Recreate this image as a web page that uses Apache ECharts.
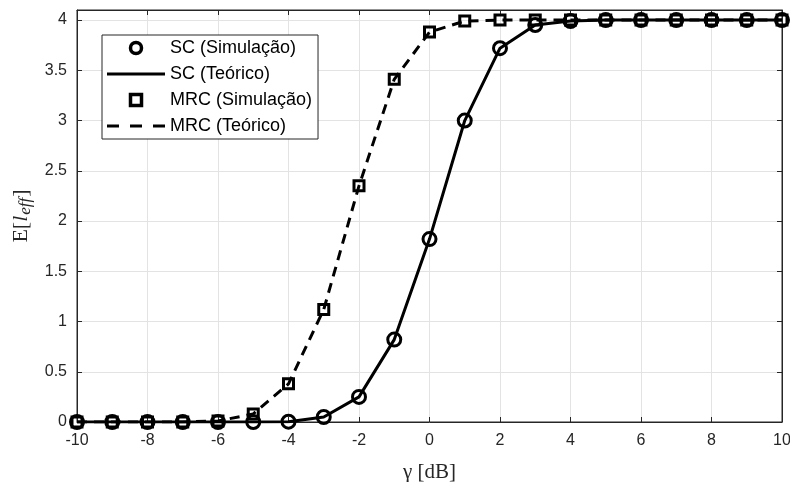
<!DOCTYPE html>
<html><head><meta charset="utf-8">
<script src="https://cdn.jsdelivr.net/npm/echarts@6/dist/echarts.min.js"></script>
<style>html,body{margin:0;padding:0;background:#fff}#c{width:790px;height:482px}</style>
</head><body><div id="c"></div>
<script>
const gammaDb = [-10,-9,-8,-7,-6,-5,-4,-3,-2,-1,0,1,2,3,4,5,6,7,8,9,10];
const scValues = [0,0,0,0,0,0,0.003,0.05,0.25,0.82,1.82,3.0,3.72,3.95,3.99,4,4,4,4,4,4];
const mrcValues = [0,0,0,0,0.01,0.08,0.38,1.12,2.35,3.41,3.88,3.99,4,4,4,4,4,4,4,4,4];
const seriesNames = ['SC (Simulação)','SC (Teórico)','MRC (Simulação)','MRC (Teórico)'];

const pairs = v => gammaDb.map((x,i)=>[x,v[i]]);
const chart = echarts.init(document.getElementById('c'));
const axisCol = '#262626';
const gridCol = '#e3e3e3';
const font = 'Liberation Sans, Arial, sans-serif';
const serif = 'Liberation Serif, Times New Roman, serif';
const solidIcon = 'path://M0,0h58v3h-58z';
const dashIcon = 'path://M0,0h12v3h-12zM23,0h12v3h-12zM46,0h12v3h-12z';
const boxIcon = 'path://M0,0h10v10h-10z';
chart.setOption({
  animation:false,
  grid:{left:77,right:8,top:10,bottom:60,outerBoundsMode:'none',containLabel:false,show:true,borderColor:axisCol,borderWidth:1,backgroundColor:'#fff'},
  legend:{
    orient:'vertical',left:102,top:35,
    backgroundColor:'#fff',borderColor:axisCol,borderWidth:1,borderRadius:0,
    padding:[4,6,4,5],itemGap:8,itemWidth:58,itemHeight:11,
    textStyle:{fontFamily:font,fontSize:18,lineHeight:18,color:'#000'},
    data:[
      {name:seriesNames[0],icon:'circle',itemStyle:{borderWidth:3.5}},
      {name:seriesNames[1],icon:solidIcon},
      {name:seriesNames[2],icon:boxIcon,itemStyle:{borderWidth:3.5}},
      {name:seriesNames[3],icon:dashIcon}
    ]
  },
  xAxis:[{
    type:'value',min:-10,max:10,interval:2,
    axisLine:{show:true,onZero:false,lineStyle:{color:axisCol}},
    axisTick:{show:true,inside:true,length:5,lineStyle:{color:axisCol}},
    axisLabel:{color:axisCol,fontFamily:font,fontSize:16,margin:11},
    splitLine:{show:true,lineStyle:{color:gridCol,width:1}},
    name:'γ [dB]',nameLocation:'middle',nameGap:40,
    nameTextStyle:{fontFamily:serif,fontSize:21,color:axisCol}
  },{
    type:'value',position:'top',min:-10,max:10,interval:2,
    axisLine:{show:true,onZero:false,lineStyle:{color:axisCol}},
    axisTick:{show:true,inside:true,length:5,lineStyle:{color:axisCol}},
    axisLabel:{show:false},splitLine:{show:false}
  }],
  yAxis:[{
    type:'value',min:0,max:4.1,interval:0.5,
    axisLine:{show:true,onZero:false,lineStyle:{color:axisCol}},
    axisTick:{show:true,inside:true,length:5,lineStyle:{color:axisCol}},
    axisLabel:{color:axisCol,fontFamily:font,fontSize:16,margin:10,
      formatter:v=>(Math.abs(v*2-Math.round(v*2))<1e-6 && v<=4)?String(v):''},
    splitLine:{show:true,lineStyle:{color:gridCol,width:1}},
    name:'{n|E[}{i|l}{s|eff}{n|]}',nameLocation:'middle',nameGap:43,nameRotate:90,
    nameTextStyle:{color:axisCol,rich:{
      n:{fontFamily:serif,fontSize:22,color:axisCol},
      i:{fontFamily:serif,fontStyle:'italic',fontSize:22,color:axisCol},
      s:{fontFamily:serif,fontStyle:'italic',fontSize:17,color:axisCol,verticalAlign:'bottom',padding:[8,1,0,1]}
    }}
  },{
    type:'value',position:'right',min:0,max:4.1,interval:0.5,
    axisLine:{show:true,onZero:false,lineStyle:{color:axisCol}},
    axisTick:{show:true,inside:true,length:5,lineStyle:{color:axisCol}},
    axisLabel:{show:false},splitLine:{show:false}
  }],
  series:[
    {name:seriesNames[0],type:'scatter',data:pairs(scValues),symbol:'circle',symbolSize:13,z:5,
     itemStyle:{color:'transparent',borderColor:'#000',borderWidth:3,opacity:1}},
    {name:seriesNames[1],type:'line',data:pairs(scValues),symbol:'none',z:4,
     lineStyle:{color:'#000',width:3},itemStyle:{color:'#000'}},
    {name:seriesNames[2],type:'scatter',data:pairs(mrcValues),symbol:'rect',symbolSize:10,z:5,
     itemStyle:{color:'transparent',borderColor:'#000',borderWidth:3,opacity:1}},
    {name:seriesNames[3],type:'line',data:pairs(mrcValues),symbol:'none',z:4,
     lineStyle:{color:'#000',width:3,type:[10,7]},itemStyle:{color:'#000'}}
  ]
});
</script></body></html>
